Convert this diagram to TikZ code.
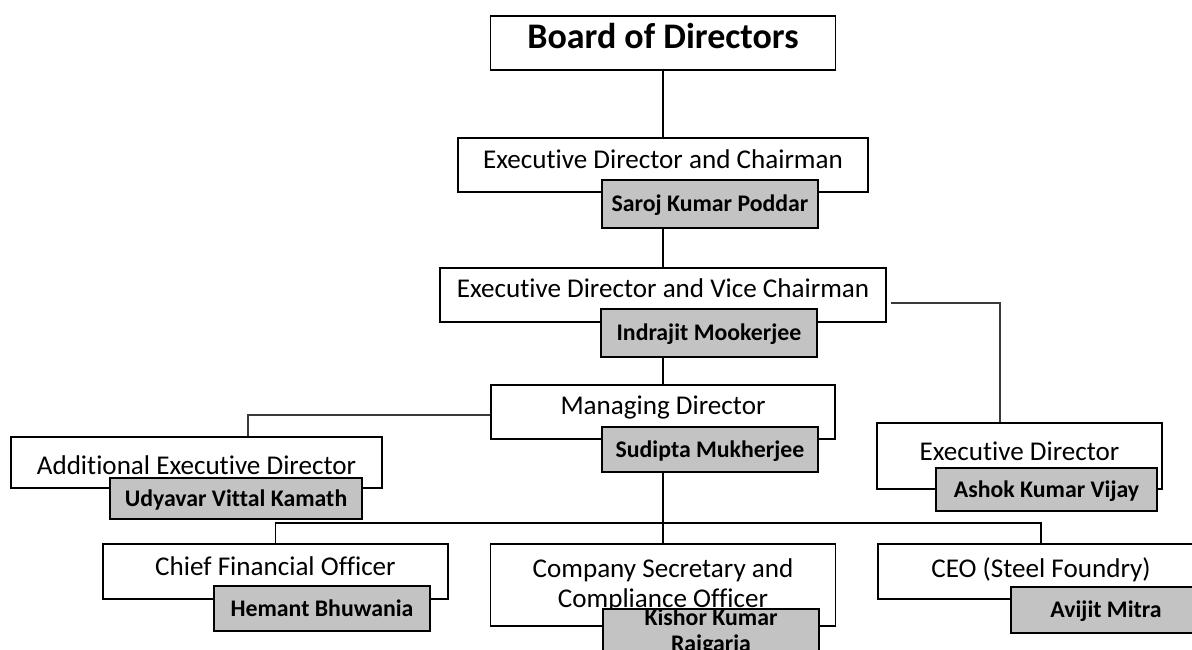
\documentclass[tikz,border=0pt]{standalone}
\usepackage{fontspec}
\setmainfont{Carlito}[Ligatures=NoCommon]
\usetikzlibrary{backgrounds}
\definecolor{namegray}{RGB}{195,195,195}

\begin{document}
\begin{tikzpicture}[x=1pt,y=-1pt,
  rolebox/.style={draw, line width=1.8pt, fill=white, inner sep=0pt, font=\fontsize{27.1}{30}\selectfont},
  role/.style={rolebox, text height=17.1pt, text depth=10pt},
  personbox/.style={draw, line width=1.8pt, fill=namegray, inner sep=0pt, font=\fontsize{23.8}{26}\selectfont\bfseries},
  person/.style={personbox, text height=15pt, text depth=0pt},
  link/.style={line width=1.8pt},
  sidelink/.style={line width=1.1pt, gray!45!black}]
  \useasboundingbox (0,0) rectangle (1192,650);
  \clip (0,0) rectangle (1192,650);

  \node[draw, line width=1.8pt, fill=white, inner sep=0pt, minimum width=345pt, minimum height=54pt,
        font=\fontsize{36}{42}\selectfont\bfseries, text height=22.8pt, text depth=12pt] (board) at (663,43) {Board of Directors};

  \node[role, minimum width=410pt, minimum height=54pt] (chair) at (663,165) {Executive Director and Chairman};
  \node[person, minimum width=216pt, minimum height=48pt] (saroj) at (710,204) {Saroj Kumar Poddar};

  \node[role, minimum width=446pt, minimum height=54pt, text depth=12pt] (vice) at (663,295) {Executive Director and Vice Chairman};
  \node[person, minimum width=216pt, minimum height=48pt] (indrajit) at (709,333) {Indrajit Mookerjee};

  \node[role, minimum width=344pt, minimum height=54pt, text depth=12pt] (md) at (663,412) {Managing Director};
  \node[person, minimum width=216pt, minimum height=45pt] (sudipta) at (710,449.5) {Sudipta Mukherjee};

  \node[role, minimum width=371pt, minimum height=51pt, text height=24.1pt, text depth=0pt] (aed) at (196.5,462.5) {Additional Executive Director};
  \node[person, minimum width=252pt, minimum height=41pt] (udyavar) at (236,498.5) {Udyavar Vittal Kamath};

  \node[role, minimum width=285pt, minimum height=66pt, text depth=9pt] (exd) at (1019.5,456) {Executive Director};
  \node[person, minimum width=221pt, minimum height=43pt] (ashok) at (1046.5,489.5) {Ashok Kumar Vijay};

  \node[role, minimum width=345pt, minimum height=55pt] (cfo) at (275.5,571.5) {Chief Financial Officer};
  \node[person, minimum width=216pt, minimum height=45pt] (hemant) at (322,608.5) {Hemant Bhuwania};

  \node[rolebox, align=center, minimum width=345pt, minimum height=82pt] (cs) at (663,585) {Company Secretary and\\Compliance Officer};
  \node[personbox, align=center, anchor=north, minimum width=216pt, minimum height=44pt] (kishor) at (711,608) {Kishor Kumar\\Rajgaria};

  \node[role, minimum width=326pt, minimum height=55pt, text depth=6pt] (ceo) at (1041,571.5) {CEO (Steel Foundry)};
  \node[person, minimum width=190pt, minimum height=46pt] (avijit) at (1106,610) {Avijit Mitra};

  \coordinate (bus) at (663,523);
  \coordinate (mdside) at (491,415);
  \coordinate (aedtop) at (248,437);
  \coordinate (viceside) at (891,303);
  \coordinate (exdtop) at (1000,423);

  \begin{scope}[on background layer]
    \draw[link] (board.south) -- (chair.north);
    \draw[link] (chair.south) -- (vice.north);
    \draw[link] (vice.south) -- (md.north);
    \draw[link] (md.south) -- (bus);
    \draw[link] (cfo.north) |- (bus) -| (ceo.north);
    \draw[link] (bus) -- (cs.north);
    \draw[sidelink] (mdside) -| (aedtop);
    \draw[sidelink] (viceside) -| (exdtop);
  \end{scope}
\end{tikzpicture}
\end{document}
